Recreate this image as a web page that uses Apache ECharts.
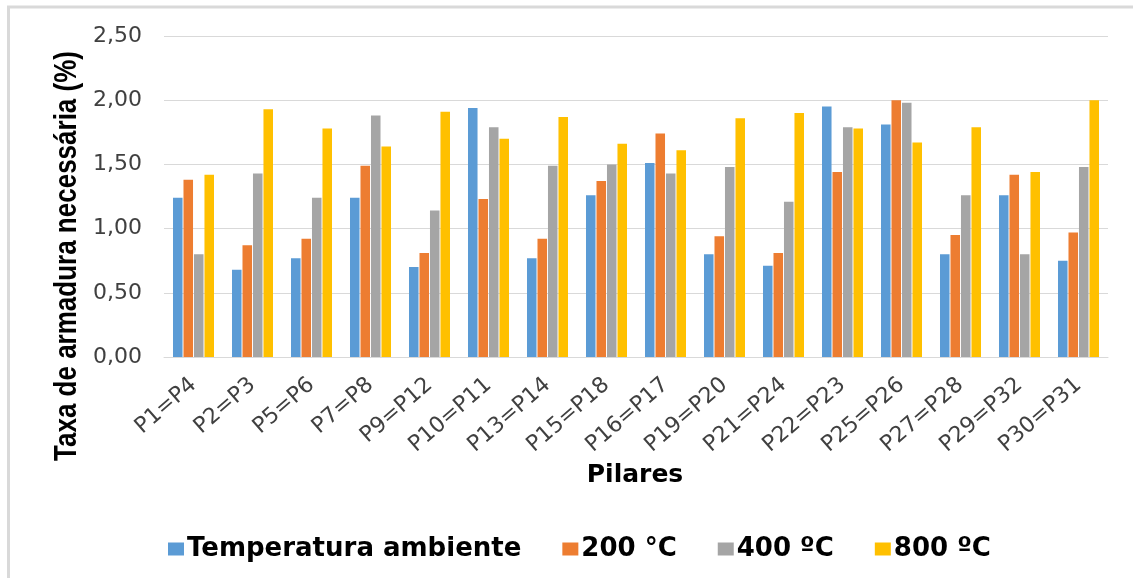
<!DOCTYPE html>
<html>
<head>
<meta charset="utf-8">
<script src="https://cdn.jsdelivr.net/npm/echarts@6/dist/echarts.min.js"></script>
<style>
html,body{margin:0;padding:0;background:#fff;}
#chart{width:1133px;height:578px;}
</style>
</head>
<body>
<div id="chart"></div>
<script>
const categories = ['P1=P4','P2=P3','P5=P6','P7=P8','P9=P12','P10=P11','P13=P14','P15=P18','P16=P17','P19=P20','P21=P24','P22=P23','P25=P26','P27=P28','P29=P32','P30=P31'];
const seriesNames = ['Temperatura ambiente','200 °C','400 ºC','800 ºC'];
const ambiente = [1.24,0.68,0.77,1.24,0.70,1.94,0.77,1.26,1.51,0.80,0.71,1.95,1.81,0.80,1.26,0.75];
const t200 = [1.38,0.87,0.92,1.49,0.81,1.23,0.92,1.37,1.74,0.94,0.81,1.44,2.00,0.95,1.42,0.97];
const t400 = [0.80,1.43,1.24,1.88,1.14,1.79,1.49,1.50,1.43,1.48,1.21,1.79,1.98,1.26,0.80,1.48];
const t800 = [1.42,1.93,1.78,1.64,1.91,1.70,1.87,1.66,1.61,1.86,1.90,1.78,1.67,1.79,1.44,2.00];
const yTitle = 'Taxa de armadura necessária (%)';
const xTitle = 'Pilares';
const colors = ['#5B9BD5','#ED7D31','#A5A5A5','#FFC000'];
const values = [ambiente,t200,t400,t800];

const chart = echarts.init(document.getElementById('chart'), null, {renderer:'canvas'});
chart.setOption({
  animation:false,
  color: colors,
  grid:{left:164,right:25,top:36,bottom:221,containLabel:false},
  legend:{
    left:163, top:531,
    itemWidth:16, itemHeight:13, itemGap:41,
    icon:'rect',
    textStyle:{fontFamily:'DejaVu Sans',fontWeight:'bold',fontSize:26,color:'#000',padding:[0,0,0,-2]},
    data: seriesNames
  },
  xAxis:{
    type:'category', data:categories,
    axisLine:{show:true,lineStyle:{color:'#d9d9d9',width:1}},
    axisTick:{show:false},
    axisLabel:{rotate:41,interval:0,margin:25,fontFamily:'DejaVu Sans',fontSize:22,color:'#404040'}
  },
  yAxis:{
    type:'value', min:0, max:2.5, interval:0.5,
    axisLine:{show:false}, axisTick:{show:false},
    splitLine:{lineStyle:{color:'#d9d9d9',width:1}},
    axisLabel:{margin:22,fontFamily:'DejaVu Sans',fontSize:22,color:'#404040',
      formatter:function(v){return v.toFixed(2).replace('.',',');}}
  },
  graphic:[
    {type:'line',shape:{x1:8.5,y1:7,x2:8.5,y2:600},style:{stroke:'#d9d9d9',lineWidth:3},silent:true,z:-10},
    {type:'line',shape:{x1:7,y1:7,x2:1200,y2:7},style:{stroke:'#d9d9d9',lineWidth:3},silent:true,z:-10},
    {type:'text',x:67,y:256,rotation:Math.PI/2,scaleY:1.2,
      style:{text:yTitle,font:'bold 26px "Liberation Sans", Arial, sans-serif',fill:'#000',textAlign:'center',textVerticalAlign:'middle'}},
    {type:'text',x:635,y:475,
      style:{text:xTitle,font:'bold 25px "DejaVu Sans", sans-serif',fill:'#000',textAlign:'center',textVerticalAlign:'middle'}}
  ],
  series: seriesNames.map(function(n,i){
    return {name:n,type:'bar',data:values[i],barGap:'10%',barCategoryGap:'30.5%',
      itemStyle:{color:colors[i]}};
  })
});
</script>
</body>
</html>
